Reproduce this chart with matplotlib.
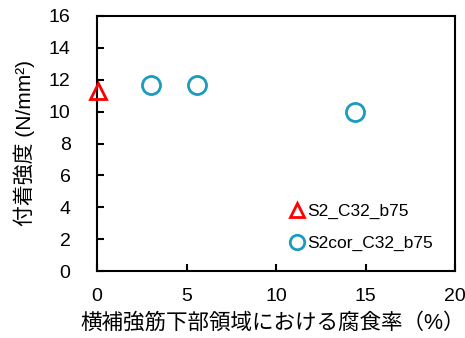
import matplotlib
matplotlib.use("Agg")
import matplotlib.pyplot as plt

plt.rcParams['font.family'] = ['Liberation Sans', 'Noto Sans CJK JP']

# Data
s2_x = [0.05]
s2_y = [11.3]
s2cor_x = [3.0, 5.6, 14.4]
s2cor_y = [11.7, 11.7, 9.95]
xticks = [0, 5, 10, 15, 20]
yticks = [0, 2, 4, 6, 8, 10, 12, 14, 16]

fig = plt.figure(figsize=(4.65, 3.38), dpi=100)
ax = fig.add_axes([97/465, 1 - 271/338, 358/465, 255/338])

ax.plot(s2_x, s2_y, linestyle='none', marker='^', markersize=12,
        markerfacecolor='none', markeredgecolor='#FF0000', markeredgewidth=2,
        label='S2_C32_b75', clip_on=False, zorder=5)
ax.plot(s2cor_x, s2cor_y, linestyle='none', marker='o', markersize=13,
        markerfacecolor='none', markeredgecolor='#1A9BBF', markeredgewidth=2,
        label='S2cor_C32_b75', clip_on=False, zorder=5)

ax.set_xlim(0, 20)
ax.set_ylim(0, 16)
ax.set_xticks(xticks)
ax.set_yticks(yticks)
ax.tick_params(direction='in', length=5, width=1.5, labelsize=14,
               top=False, right=False)
ax.tick_params(axis='y', pad=19)
ax.tick_params(axis='x', pad=12)
for s in ax.spines.values():
    s.set_linewidth(1.5)

ax.set_ylabel('付着強度 (N/mm²)', fontsize=15, labelpad=10)
ax.set_xlabel('横補強筋下部領域における腐食率（%）', fontsize=15.5,
              ha='left', x=-0.045, labelpad=6)

ax.legend(loc='upper left', bbox_to_anchor=(0.545, 0.262), frameon=False,
          fontsize=12.5, handlelength=0.6, handletextpad=0.25,
          labelspacing=0.95, borderpad=0, borderaxespad=0, markerscale=0.8)

fig.savefig('out.png', dpi=100)
